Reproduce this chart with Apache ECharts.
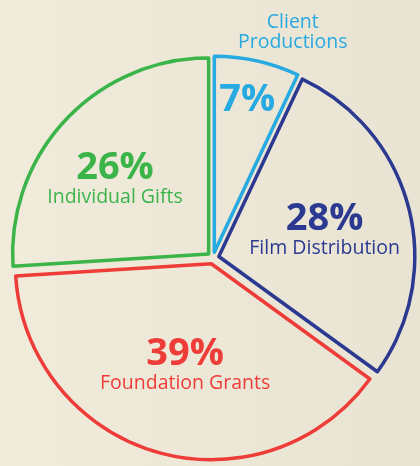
<!DOCTYPE html>
<html><head><meta charset="utf-8">
<script src="https://cdn.jsdelivr.net/npm/echarts@6/dist/echarts.min.js"></script>
<style>html,body{margin:0;padding:0;}#c{width:420px;height:466px;}</style>
</head><body><div id="c"></div>
<script>
const categories = ['Client Productions', 'Film Distribution', 'Foundation Grants', 'Individual Gifts'];
const nameLabels = ['Client\nProductions', 'Film Distribution', 'Foundation Grants', 'Individual Gifts'];
const values = [7, 28, 39, 26];
const colors = ['#27a9e1', '#2b3990', '#ee3d38', '#3bb54a'];
// label nudges relative to the library's inside position
const labelNudge = [[11, -53], [8, -2], [2, 4], [-20, -6]];
const outerNudge = [[32, -34]];

const font = '"Open Sans", sans-serif';
const chart = echarts.init(document.getElementById('c'), null, {renderer: 'canvas'});

const mainData = categories.map((c, i) => ({
  name: c, value: values[i], selected: true,
  itemStyle: {color: 'rgba(0,0,0,0)', borderColor: colors[i], borderWidth: 3.5},
  select: {itemStyle: {color: 'rgba(0,0,0,0)', borderColor: colors[i], borderWidth: 3.5}},
  label: {
    color: colors[i],
    formatter: i === 0 ? '{p|{c}%}' : '{p|{c}%}\n{n|' + nameLabels[i] + '}',
    rich: {
      p: {fontFamily: font, fontWeight: 'bold', fontSize: 38, color: colors[i], lineHeight: 38},
      n: {fontFamily: font, fontWeight: 500, fontSize: 19.5, color: colors[i], lineHeight: 21}
    }
  }
}));

const outerData = categories.map((c, i) => ({
  name: c, value: values[i],
  itemStyle: {color: 'rgba(0,0,0,0)', borderWidth: 0},
  label: {show: i === 0, formatter: nameLabels[i], color: colors[i],
          fontFamily: font, fontWeight: 500, fontSize: 19.5, lineHeight: 20, align: 'center'},
  labelLine: {show: false}
}));

chart.setOption({
  backgroundColor: {type: 'linear', x: 0, y: 0, x2: 1, y2: 0,
    colorStops: [{offset: 0, color: '#f1ebdc'}, {offset: 1, color: '#e9e3d3'}]},
  animation: false,
  series: [{
    type: 'pie',
    center: [213, 258],
    radius: [0, 196],
    startAngle: 90,
    clockwise: true,
    selectedMode: 'multiple',
    selectedOffset: 6,
    avoidLabelOverlap: false,
    emphasis: {disabled: true},
    label: {show: true, position: 'inside', align: 'center'},
    labelLine: {show: false},
    labelLayout: p => ({dx: labelNudge[p.dataIndex][0], dy: labelNudge[p.dataIndex][1]}),
    data: mainData
  }, {
    type: 'pie',
    silent: true,
    center: [213, 258],
    radius: [0, 196],
    startAngle: 90,
    clockwise: true,
    avoidLabelOverlap: false,
    label: {position: 'outside'},
    labelLine: {show: false, length: 0, length2: 0},
    labelLayout: p => p.dataIndex === 0 ? {align: 'center', dx: outerNudge[0][0], dy: outerNudge[0][1]} : {},
    data: outerData
  }]
});
</script></body></html>
